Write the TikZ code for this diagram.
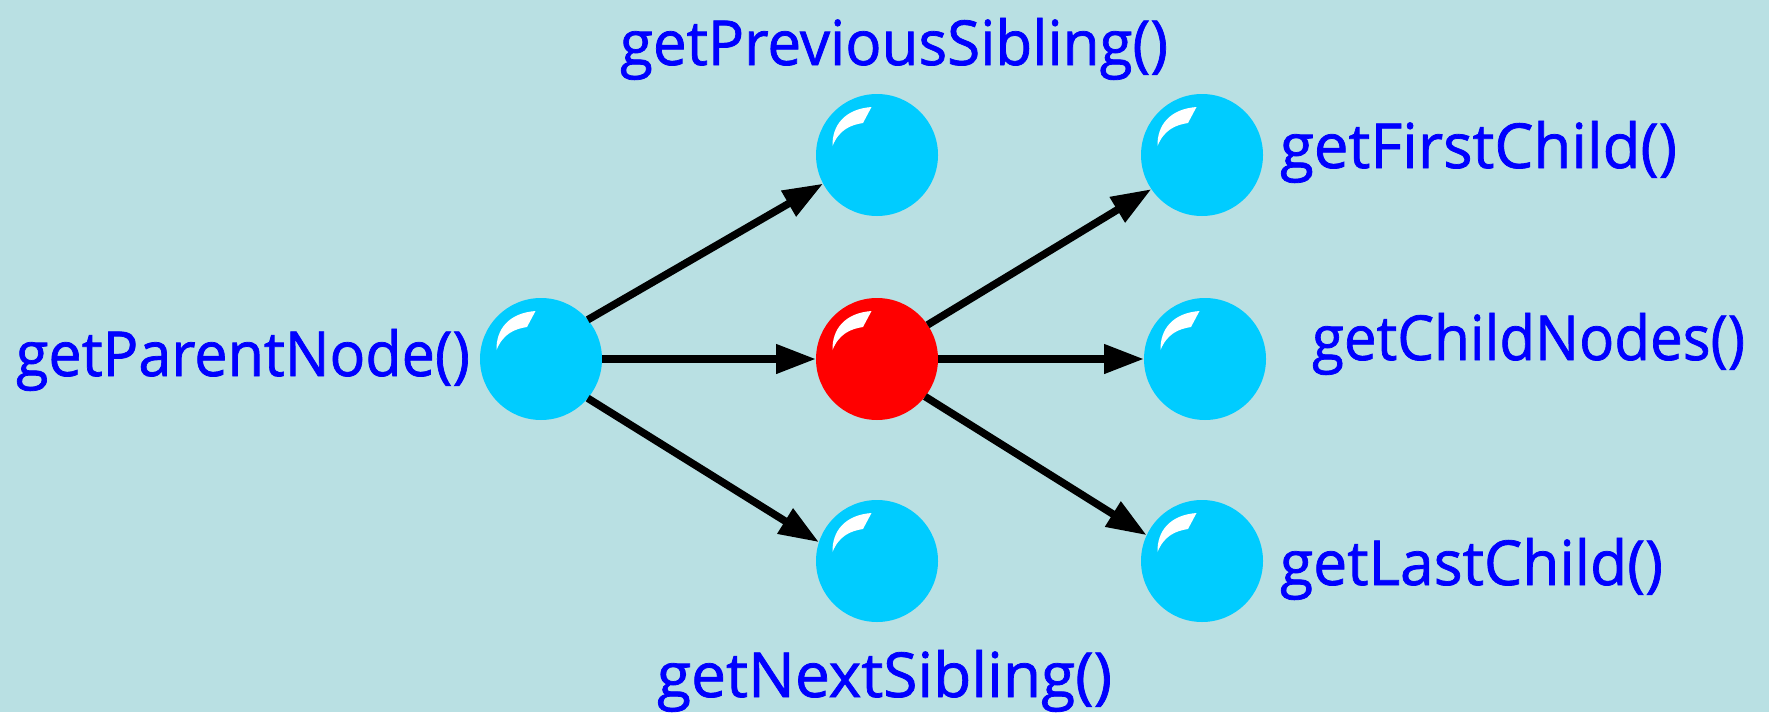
\documentclass[tikz,border=0pt]{standalone}
\usepackage{fontspec}
\setmainfont{Open Sans}[FakeBold=1.2]
\usetikzlibrary{arrows.meta}
\definecolor{bgteal}{RGB}{185,224,227}
\definecolor{ballcyan}{RGB}{0,204,255}
\definecolor{labelblue}{RGB}{0,0,255}
\newcommand{\fitlabel}[2]{\resizebox{#1}{\height}{#2}}
\tikzset{
  ball/.style={circle, minimum size=122pt, inner sep=0pt, outer sep=0pt, fill=#1,
    path picture={
      \fill[white, shift={(path picture bounding box.center)}]
        (-44.5,-9) .. controls (-45,-30) and (-32,-46) .. (-5.5,-48)
        -- (-14,-32) .. controls (-27,-30) and (-38,-25) .. (-44.5,-9) -- cycle;
    }},
  ball/.default=ballcyan,
  arr/.style={line width=7.5pt, -{Triangle[length=40pt,width=28pt]}},
  lbl/.style={anchor=base west, inner sep=0pt, outer sep=0pt, text=labelblue,
    font=\fontsize{62}{70}\selectfont},
}
\begin{document}
\begin{tikzpicture}[x=1pt, y=-1pt]
  \fill[bgteal] (0,0) rectangle (1769,712);
  \useasboundingbox (0,0) rectangle (1769,712);

  % the node tree
  \node[ball] (parent) at (541,359) {};
  \node[ball] (prev)   at (877,155) {};
  \node[ball=red] (cur) at (877,359) {};
  \node[ball] (next)   at (877,561) {};
  \node[ball] (first)  at (1202,155) {};
  \node[ball] (kids)   at (1205,359) {};
  \node[ball] (last)   at (1202,561) {};

  % navigation arrows
  \draw[arr] (parent.40)  -- (prev.208);
  \draw[arr] (parent.east) -- (cur.west);
  \draw[arr] (parent.-40) -- (next.162);
  \draw[arr] (cur.34.5)   -- (first.214);
  \draw[arr] (cur.east)   -- (kids.west);
  \draw[arr] (cur.-38.8)  -- (last.155);

  % method names
  \node[lbl] (lparent) at (16,376)   {\fitlabel{454pt}{getParentNode()}};
  \node[lbl] (lprev)   at (620,65)   {\fitlabel{548pt}{getPreviousSibling()}};
  \node[lbl] (lnext)   at (657,697)  {\fitlabel{455pt}{getNextSibling()}};
  \node[lbl] (lfirst)  at (1280,168) {\fitlabel{397pt}{getFirstChild()}};
  \node[lbl] (lkids)   at (1312,360) {\fitlabel{433pt}{getChildNodes()}};
  \node[lbl] (llast)   at (1280,585) {\fitlabel{383pt}{getLastChild()}};
\end{tikzpicture}
\end{document}
